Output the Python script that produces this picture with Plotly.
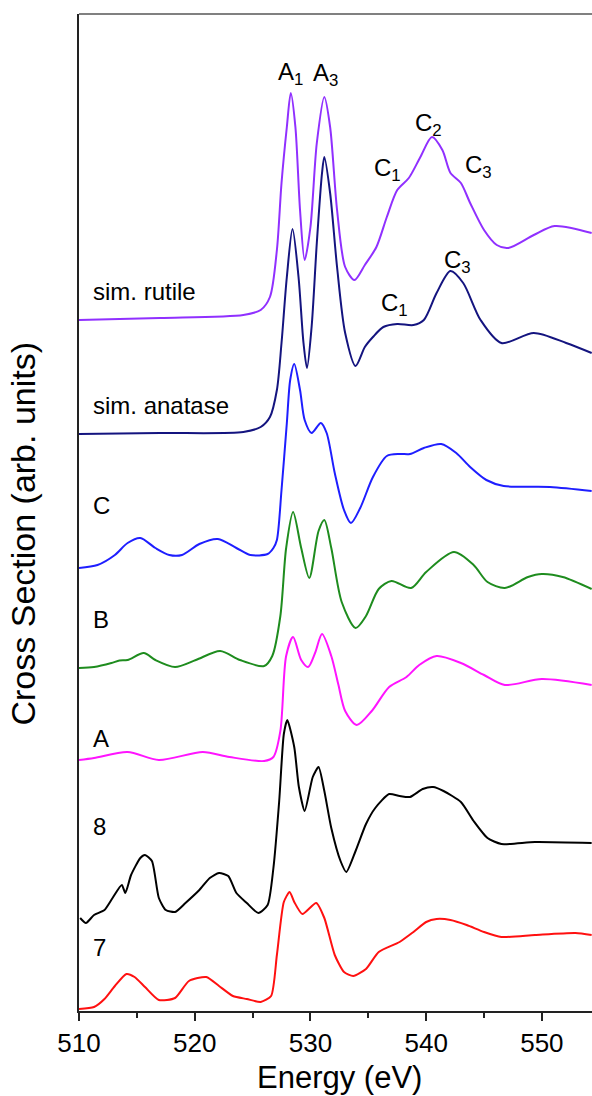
import plotly.graph_objects as go

# ---- data (energy in eV, stacked cross section in arb. units) ----
e_rutile = [510.0, 517.0, 524.2, 525.7, 526.5, 527.1, 527.5, 527.96, 528.3, 528.7, 529.1, 529.5, 530.0, 530.55,
            531.2, 531.7, 532.3, 533.0, 533.8, 534.7, 535.7, 536.6, 537.5, 538.5, 539.5, 540.5, 541.4, 542.1,
            543.0, 543.8, 545.0, 546.1, 547.1, 549.3, 551.1, 554.3]
cs_rutile = [69.1, 69.3, 69.6, 70.1, 71.4, 76.1, 82.8, 88.4, 91.8, 88.4, 80.1, 75.1, 78.4, 86.8,
             91.4, 88.4, 80.1, 74.4, 73.1, 74.6, 76.4, 79.4, 82.1, 83.3, 85.4, 87.4, 86.1, 83.8,
             82.8, 80.8, 78.1, 76.6, 76.3, 77.6, 78.5, 77.8]

e_anatase = [510.0, 517.0, 524.2, 525.7, 526.5, 527.1, 527.5, 527.96, 528.45, 528.97, 529.4, 529.7, 530.1,
             530.55, 531.0, 531.2, 531.7, 532.3, 533.0, 533.9, 534.7, 535.4, 536.3, 537.5, 538.9, 539.8,
             540.9, 542.1, 543.2, 544.7, 546.5, 549.3, 552.1, 554.3]
cs_anatase = [57.7, 57.8, 57.9, 58.4, 59.4, 62.1, 66.8, 73.4, 78.2, 73.4, 66.8, 64.3, 68.4,
              76.8, 83.8, 85.4, 81.8, 74.4, 67.8, 64.5, 66.4, 67.4, 68.4, 68.7, 68.6, 69.1,
              71.8, 74.0, 72.8, 69.1, 66.8, 67.8, 66.8, 65.8]

e_c = [510.0, 511.6, 513.1, 514.2, 515.3, 516.6, 517.8, 518.9, 520.4, 522.0, 523.6, 524.8, 526.3, 526.8,
       527.1, 527.5, 527.96, 528.25, 528.6, 529.1, 529.5, 530.1, 530.9, 531.4, 532.1, 532.9, 533.5,
       534.3, 535.4, 536.6, 537.75, 538.6, 539.8, 541.3, 542.6, 543.8, 545.2, 546.7, 550.7, 554.3]
cs_c = [44.3, 44.6, 45.6, 46.8, 47.3, 46.3, 45.6, 45.6, 46.7, 47.2, 46.3, 45.6, 45.7, 46.3,
        47.1, 52.1, 58.8, 63.1, 64.7, 62.1, 59.1, 57.8, 58.8, 57.8, 53.8, 50.1, 48.8,
        50.3, 53.4, 55.5, 55.7, 55.7, 56.3, 56.7, 55.8, 54.4, 53.1, 52.5, 52.4, 52.0]

e_b = [510.0, 511.3, 512.8, 513.5, 514.2, 515.6, 516.6, 518.3, 520.1, 522.2, 523.9, 526.0, 526.7, 527.4,
       527.9, 528.5, 529.2, 529.9, 530.7, 531.2, 531.8, 532.7, 533.9, 534.8, 535.9, 537.0, 538.7, 540.0,
       542.4, 544.1, 545.3, 546.8, 548.8, 550.0, 551.8, 554.3]
cs_b = [34.3, 34.4, 34.8, 35.05, 35.1, 35.8, 35.1, 34.4, 35.1, 36.0, 35.1, 34.5, 35.5, 39.5,
        46.3, 49.9, 46.3, 43.3, 48.0, 49.1, 46.3, 40.9, 38.3, 39.5, 42.2, 43.0, 42.3, 43.9,
        45.9, 44.6, 42.9, 42.3, 43.4, 43.7, 43.4, 42.2]

e_a = [510.0, 511.3, 514.2, 516.9, 520.7, 523.0, 526.0, 526.8, 527.4, 527.9, 528.5, 529.2, 529.8, 530.4,
       531.0, 531.8, 532.4, 533.0, 534.0, 535.3, 536.8, 538.3, 539.4, 540.9, 543.0, 545.0, 546.8, 550.0, 554.3]
cs_a = [25.1, 25.3, 25.9, 25.1, 25.9, 25.4, 25.0, 25.4, 28.0, 35.5, 37.4, 35.1, 34.4, 35.8,
        37.7, 35.5, 32.7, 30.0, 28.6, 30.0, 32.4, 33.4, 34.6, 35.5, 34.8, 33.6, 32.6, 33.2, 32.6]

e_8 = [510.1, 510.6, 511.3, 512.2, 512.9, 513.7, 514.0, 514.5, 515.3, 515.7, 516.3, 516.9, 517.5, 518.3,
       519.2, 520.4, 521.3, 522.1, 522.9, 523.6, 524.5, 525.5, 526.3, 526.8, 527.3, 527.7, 528.0, 528.6,
       529.0, 529.5, 530.2, 530.7, 531.2, 531.8, 532.6, 533.1, 533.9, 534.8, 535.6, 536.8, 537.7, 538.6,
       539.7, 540.6, 541.5, 543.0, 544.1, 545.3, 546.5, 549.4, 554.3]
cs_8 = [9.3, 8.8, 9.6, 10.1, 11.3, 12.6, 11.8, 13.6, 15.3, 15.6, 15.0, 11.3, 10.1, 9.9,
        10.8, 12.1, 13.3, 13.8, 13.5, 11.8, 10.8, 9.8, 10.6, 14.3, 21.0, 27.7, 29.1, 26.4,
        22.4, 20.0, 23.4, 24.4, 22.0, 18.3, 15.0, 13.9, 16.0, 18.7, 20.3, 21.7, 21.5, 21.4,
        22.2, 22.4, 22.0, 20.9, 19.0, 17.3, 16.7, 16.9, 16.8]

e_7 = [510.0, 511.3, 512.2, 513.1, 514.1, 514.8, 515.7, 516.9, 518.3, 519.5, 521.0, 522.1, 523.3, 524.5,
       525.7, 526.6, 527.1, 527.7, 528.2, 528.6, 529.3, 530.5, 531.2, 532.1, 532.9, 533.7, 534.8, 535.9,
       537.7, 538.9, 540.0, 540.9, 542.1, 543.5, 545.0, 546.5, 549.4, 552.9, 554.3]
cs_7 = [0.2, 0.4, 1.2, 2.5, 3.7, 3.4, 2.4, 1.1, 1.3, 3.0, 3.4, 2.5, 1.5, 1.2,
        0.9, 1.5, 5.6, 10.9, 11.9, 10.9, 9.7, 10.8, 9.3, 5.6, 3.9, 3.5, 4.2, 5.9,
        6.9, 7.9, 8.9, 9.2, 9.1, 8.6, 7.9, 7.4, 7.6, 7.8, 7.6]

series_names = ["sim. rutile", "sim. anatase", "C", "B", "A", "8", "7"]
series_x = [e_rutile, e_anatase, e_c, e_b, e_a, e_8, e_7]
series_y = [cs_rutile, cs_anatase, cs_c, cs_b, cs_a, cs_8, cs_7]
series_colors = ["#9030FF", "#14147F", "#1E1EFF", "#1E8C1E", "#FF14FF", "#000000", "#FF1010"]
series_smooth = [0.8, 0.8, 0.8, 0.8, 0.8, 0.6, 0.6]
label_y = [72.0, 60.6, 50.6, 39.2, 27.3, 18.5, 6.4]

peak_text = ["A<sub>1</sub>", "A<sub>3</sub>", "C<sub>1</sub>", "C<sub>2</sub>", "C<sub>3</sub>",
             "C<sub>1</sub>", "C<sub>3</sub>"]
peak_x = [528.3, 531.3, 536.7, 540.2, 544.5, 537.3, 542.7]
peak_y = [93.8, 93.7, 84.2, 88.7, 84.5, 70.7, 75.0]

x_ticks = [510, 520, 530, 540, 550]

fig = go.Figure()
for xs, ys, name, col, sm in zip(series_x, series_y, series_names, series_colors, series_smooth):
    fig.add_trace(go.Scatter(x=xs, y=ys, mode="lines", name=name,
                             line=dict(color=col, width=2, shape="spline", smoothing=sm),
                             showlegend=False, hoverinfo="skip"))

font_family = "Liberation Sans, Arial, sans-serif"

for name, ly in zip(series_names, label_y):
    fig.add_annotation(x=511.0, y=ly, text=name, showarrow=False, xanchor="left", yanchor="middle",
                       font=dict(family=font_family, size=24, color="#000"))

for t, px, py in zip(peak_text, peak_x, peak_y):
    fig.add_annotation(x=px, y=py, text=t, showarrow=False, xanchor="center", yanchor="middle",
                       font=dict(family=font_family, size=24, color="#000"))

fig.add_annotation(xref="paper", yref="paper", x=0.507, y=-0.067, text="Energy (eV)", showarrow=False,
                   xanchor="center", yanchor="middle", font=dict(family=font_family, size=31, color="#000"))
fig.add_annotation(xref="paper", yref="paper", x=-0.109, y=0.479, text="Cross Section (arb. units)",
                   showarrow=False, textangle=-90, xanchor="center", yanchor="middle",
                   font=dict(family=font_family, size=34, color="#000"))

fig.add_shape(type="line", xref="paper", yref="paper", x0=0, x1=1, y0=1, y1=1,
              line=dict(color="#808080", width=2))

fig.update_layout(
    width=592, height=1096,
    margin=dict(l=79, r=0, t=14, b=85),
    paper_bgcolor="white", plot_bgcolor="white",
    xaxis=dict(range=[510, 554.33], tickvals=x_ticks, ticks="outside", ticklen=8, tickwidth=1.5,
               tickcolor="#222", showline=True, linecolor="#222", linewidth=2, showgrid=False,
               zeroline=False, tickfont=dict(family=font_family, size=26, color="#000"),
               minor=dict(dtick=5, tick0=510, ticks="outside", ticklen=5, tickwidth=1.5, tickcolor="#222",
                          showgrid=False)),
    yaxis=dict(range=[0, 99.7], showticklabels=False, ticks="", showline=True, linecolor="#222",
               linewidth=2, showgrid=False, zeroline=False),
)

fig.write_html("out.html")
